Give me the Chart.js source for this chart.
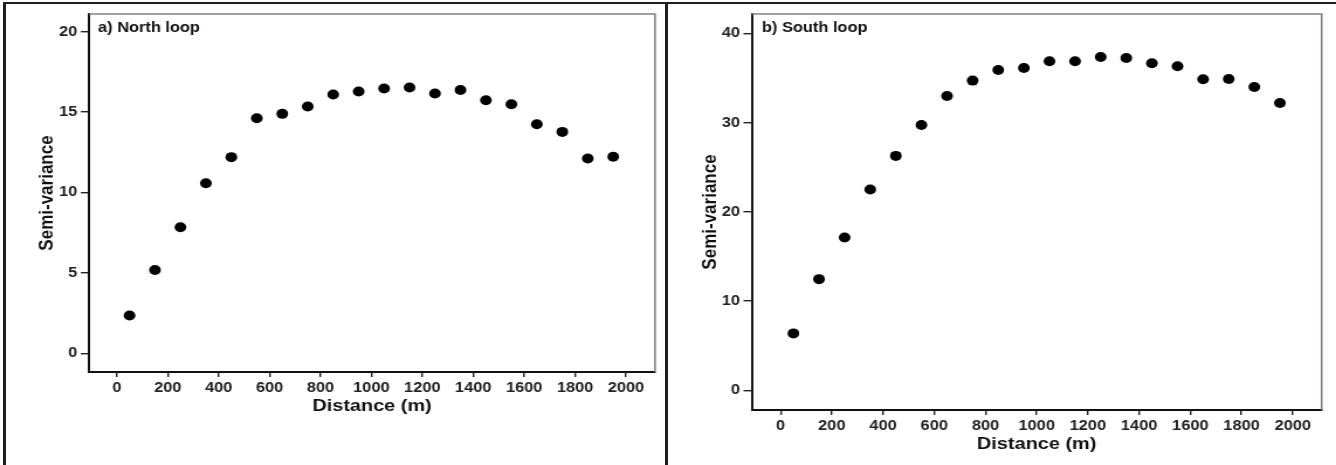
<!DOCTYPE html>
<html>
<head>
<meta charset="utf-8">
<script src="https://cdn.jsdelivr.net/npm/chart.js@4.4.1/dist/chart.umd.min.js"></script>
<style>
  html, body { margin: 0; padding: 0; background: #fff; }
  body { width: 1336px; height: 465px; position: relative; overflow: hidden; }
  .panel { position: absolute; top: 0; height: 465px; transform: scaleX(1.17); transform-origin: 0 0; }
  .rule { position: absolute; background: #1e1e1e; z-index: 5; }
</style>
</head>
<body>
<div class="rule" style="left:3px; top:2px; width:1333px; height:2px;"></div>
<div class="rule" style="left:3px; top:2px; width:3px; height:463px;"></div>
<div class="rule" style="left:665px; top:2px; width:3px; height:463px;"></div>

<div class="panel" style="left:0px;"><canvas id="north" width="569" height="465"></canvas></div>
<div class="panel" style="left:668px;"><canvas id="south" width="571" height="465"></canvas></div>

<script>
// Lag distances (m), bin centres
const lags = [50, 150, 250, 350, 450, 550, 650, 750, 850, 950,
              1050, 1150, 1250, 1350, 1450, 1550, 1650, 1750, 1850, 1950];

// Empirical semi-variance per lag
const northSemivariance = [2.35, 5.18, 7.84, 10.58, 12.2, 14.62, 14.89, 15.35, 16.09, 16.28,
                           16.47, 16.53, 16.16, 16.37, 15.74, 15.49, 14.25, 13.77, 12.11, 12.22];
const southSemivariance = [6.39, 12.47, 17.14, 22.52, 26.29, 29.76, 33.01, 34.73, 35.92, 36.15,
                           36.9, 36.9, 37.38, 37.27, 36.67, 36.34, 34.88, 34.91, 34.02, 32.22];

// Tick labels
const distanceTicks = [0, 200, 400, 600, 800, 1000, 1200, 1400, 1600, 1800, 2000];
const northTicks = [0, 5, 10, 15, 20];
const southTicks = [0, 10, 20, 30, 40];

const FONT = '"Liberation Sans", Arial, sans-serif';

// Gray frame on the top and right of the plot area, plus the panel caption
const framePlugin = {
  id: 'frame',
  afterDraw(chart, args, opts) {
    const { ctx, chartArea: a } = chart;
    ctx.save();
    ctx.strokeStyle = '#808080';
    ctx.lineWidth = 1.6;
    ctx.beginPath();
    ctx.moveTo(a.left, a.top);
    ctx.lineTo(a.right, a.top);
    ctx.lineTo(a.right, a.bottom);
    ctx.stroke();
    ctx.fillStyle = '#111';
    ctx.font = 'bold 14px ' + FONT;
    ctx.textBaseline = 'middle';
    ctx.textAlign = 'left';
    ctx.fillText(opts.caption, a.left + opts.dx, 28);
    ctx.restore();
  }
};

function makeChart(id, values, yTicks, cfg) {
  return new Chart(document.getElementById(id), {
    type: 'scatter',
    data: {
      datasets: [{
        data: lags.map((d, i) => ({ x: d, y: values[i] })),
        backgroundColor: '#000',
        borderWidth: 0,
        pointRadius: 5,
        pointHoverRadius: 5
      }]
    },
    options: {
      responsive: false,
      animation: false,
      events: [],
      layout: { padding: { top: 14, right: cfg.padRight, bottom: cfg.padBottom, left: 0 } },
      plugins: {
        legend: { display: false },
        tooltip: { enabled: false },
        frame: { caption: cfg.caption, dx: cfg.captionDx }
      },
      scales: {
        x: {
          type: 'linear',
          min: cfg.xMin, max: cfg.xMax,
          afterBuildTicks: s => { s.ticks = distanceTicks.map(v => ({ value: v })); },
          afterFit: s => { s.height = 45; },
          grid: { drawOnChartArea: false, drawTicks: true, tickLength: 5, color: '#222', lineWidth: 1.4 },
          border: { display: true, color: '#111', width: 2 },
          ticks: { padding: 3, color: '#222', font: { family: FONT, size: 14, weight: 'bold' },
                   maxRotation: 0, autoSkip: false, callback: v => String(v) },
          title: { display: true, text: 'Distance (m)', color: '#111', padding: 0,
                   font: { family: FONT, size: 17, weight: 'bold' } }
        },
        y: {
          type: 'linear',
          min: cfg.yMin, max: cfg.yMax,
          afterBuildTicks: s => { s.ticks = yTicks.map(v => ({ value: v })); },
          afterFit: s => { s.width = cfg.yWidth; },
          grid: { drawOnChartArea: false, drawTicks: true, tickLength: 7, color: '#222', lineWidth: 1.4 },
          border: { display: true, color: '#111', width: 2 },
          ticks: { padding: 3, color: '#222', font: { family: FONT, size: 14, weight: 'bold' },
                   callback: v => String(v) },
          title: { display: true, text: 'Semi-variance', color: '#111', padding: { top: cfg.yTitlePad, bottom: 0 },
                   font: { family: FONT, size: 17, weight: 'bold' } }
        }
      }
    },
    plugins: [framePlugin]
  });
}

makeChart('north', northSemivariance, northTicks, {
  caption: 'a) North loop', captionDx: 7.7,
  xMin: -109, xMax: 2114, yMin: -1.16, yMax: 21.1,
  padRight: 9.2, padBottom: 48, yWidth: 76.1, yTitlePad: 30
});

makeChart('south', southSemivariance, southTicks, {
  caption: 'b) South loop', captionDx: 8.8,
  xMin: -113, xMax: 2113, yMin: -2.2, yMax: 42.2,
  padRight: 12.3, padBottom: 10, yWidth: 71.5, yTitlePad: 25.7
});
</script>
</body>
</html>
